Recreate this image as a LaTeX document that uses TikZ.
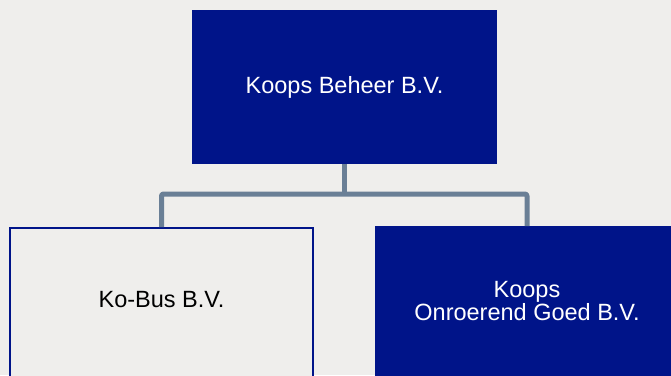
\documentclass[tikz,border=0pt]{standalone}
\usepackage{fontspec}
\setmainfont{Liberation Sans}
\usepackage{xcolor}
\usetikzlibrary{positioning}

\definecolor{achtergrond}{HTML}{EFEEEC}
\definecolor{koopsblauw}{HTML}{001489}
\definecolor{lijngrijs}{HTML}{6A7F96}

\begin{document}
\begin{tikzpicture}[
			x=1pt, y=-1pt,
			entiteit/.style={draw=koopsblauw, line width=1.2pt, minimum width=303pt, inner sep=0pt, font=\fontsize{23.5}{28}\selectfont, align=center},
			donker/.style={entiteit, fill=koopsblauw, text=white},
			licht/.style={entiteit, fill=achtergrond, line width=2pt},
			tekst/.style={font=\fontsize{23.5}{28}\selectfont, align=center},
			lijn/.style={draw=lijngrijs, line width=5pt, line join=round, rounded corners=2pt}
			]
	
	%% Achtergrond en kader
	\fill[achtergrond] (0,0) rectangle (671,375);
	\useasboundingbox (0,0) rectangle (671,375);
	\clip (0,0) rectangle (671,375);
	
	%% Moedermaatschappij
	\node[donker, minimum height=153pt, anchor=north] (beheer) at (344.5,10) {Koops Beheer B.V.};
	
	%% Dochters (lopen door buiten beeld)
	\node[licht, minimum height=190pt, anchor=north] (kobus) at (161.5,227) {};
	\node[tekst, text=black] (kobustekst) at (161.5,300) {Ko-Bus B.V.};
	\node[donker, minimum height=190pt, anchor=north] (onroerend) at (527,226) {};
	\node[tekst, text=white, inner sep=0pt] (onroerendtekst) at (527,301) {Koops\\[-5pt]Onroerend Goed B.V.};
	
	%% Verbindingen
	\coordinate (splitsing) at (344.5,194);
	\draw[lijn] (beheer.south) -- (splitsing);
	\draw[lijn] (kobus.north) |- (splitsing) -| (onroerend.north);
	
\end{tikzpicture}
\end{document}
